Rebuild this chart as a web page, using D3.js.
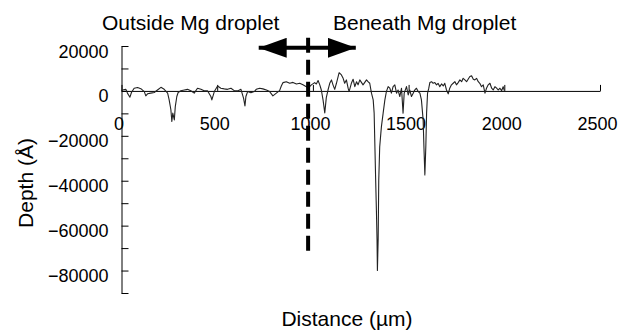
<!DOCTYPE html>
<html>
<head>
<meta charset="utf-8">
<script src="https://cdn.jsdelivr.net/npm/d3@7"></script>
<style>
  body { margin: 0; background: #fff; }
  text { font-family: "Liberation Sans", Arial, Helvetica, sans-serif; fill: #000; }
</style>
</head>
<body>
<div id="vis"></div>
<script>
// profile: distance in µm, depth in Å
var distance = [0, 5, 23, 31, 44, 52, 66, 84, 101, 119, 127, 136, 153, 171, 188, 206, 223, 241, 249, 258,
  263, 268, 276, 281, 289, 296, 310, 328, 345, 362, 380, 397, 415, 432, 450, 467, 472, 485, 502, 519,
  537, 554, 572, 589, 607, 624, 638, 645, 650, 659, 676, 694, 704, 722, 739, 757, 774, 791, 809, 826,
  835, 844, 861, 879, 896, 914, 931, 948, 966, 975, 992, 1009, 1018, 1027, 1036, 1044, 1053, 1062, 1070, 1079,
  1088, 1097, 1105, 1114, 1123, 1137, 1149, 1158, 1166, 1175, 1184, 1189, 1201, 1210, 1219, 1228, 1236, 1245, 1262, 1280,
  1288, 1297, 1306, 1315, 1320, 1324, 1328, 1332, 1335, 1337, 1341, 1344, 1349, 1355, 1358, 1367, 1376, 1384, 1393, 1402,
  1410, 1419, 1428, 1437, 1445, 1454, 1463, 1471, 1477, 1489, 1498, 1506, 1515, 1524, 1532, 1541, 1550, 1559, 1567, 1576,
  1580, 1585, 1590, 1594, 1599, 1605, 1611, 1620, 1628, 1637, 1646, 1654, 1663, 1672, 1681, 1689, 1698, 1707, 1715, 1724,
  1733, 1742, 1750, 1759, 1768, 1777, 1785, 1794, 1803, 1811, 1820, 1829, 1838, 1846, 1855, 1864, 1872, 1881, 1890, 1899,
  1907, 1916, 1925, 1934, 1942, 1951, 1960, 1968, 1977, 1986, 1994, 2000];
var depth = [0, 400, 700, -1000, -2800, -700, 1200, 1500, 1000, -300, -2200, -1300, -1000, -700, 400, 1600, 700, -1000, -4000, -8400,
  -13600, -9900, -12900, -7000, -2500, -700, 100, 400, 700, 100, -1000, 1200, 700, 100, 0, -2500, -4000, -300, 2200, 1200,
  900, 700, 1200, 100, 0, 700, -3300, -6700, -2500, -300, -800, -300, 700, 1200, 900, 400, -300, -2200, -1000, 100,
  2200, 3700, 4100, 3400, 3800, 3100, 3400, 2700, 1900, 1200, 2700, 3700, 3100, 4600, 2700, 400, -4000, -9800, -3000, 400,
  3400, 4900, 2700, 700, 3400, 8100, 7100, 5600, 3400, 4900, 1200, -300, 3400, 5200, 1900, 4100, 2700, 4900, 2700, 4900,
  4100, 3400, -1000, -4000, -9900, -25000, -40000, -54000, -66000, -80000, -66000, -40000, -25000, -18800, -15900, -9900, -4000, -300, 1900, 1200,
  -1000, 1900, 2700, -1000, 400, -2500, 1200, -9900, -1000, 1900, -1800, 400, -2500, -1000, 400, 1200, -300, -1000, -4000, -12900,
  -24800, -37400, -24800, -9900, -1000, 1000, 3700, 4100, 3400, 3700, 2700, 3400, 1900, 3100, 2200, 3400, 400, -1300, 1200, 2700,
  3400, 4100, 2700, 3700, 4900, 4100, 5600, 4900, 4100, 5200, 6400, 6700, 5200, 4900, 5600, 4100, 3400, 1900, 2700, -1000,
  1200, 2700, 3400, 1200, 400, 1900, 1200, 400, 1200, 100, 1900, 100];

var xTicks = [0, 500, 1000, 1500, 2000, 2500];
var yTicks = [20000, 10000, 0, -10000, -20000, -30000, -40000, -50000, -60000, -70000, -80000, -90000];
var yLabelled = [20000, 0, -20000, -40000, -60000, -80000];

var boundary = 975;              // dashed line position (µm)
var boundarySpan = [23700, -74000];
var arrowSpan = [696, 1245];     // double arrow extent (µm)
var arrowLevel = 19200;

var headers = ["Outside Mg droplet", "Beneath Mg droplet"];

var width = 629;
var height = 331;

var x = d3.scaleLinear().domain([0, 2500]).range([121.5, 600]);
var y = d3.scaleLinear().domain([-90000, 20000]).range([293, 46]);

var svg = d3.select('#vis')
    .append('svg')
    .attr('width', width)
    .attr('height', height);

// y axis, ticks pointing inward
var yAxis = svg.append('g')
    .attr('transform', 'translate(' + x(0) + ',0)')
    .call(d3.axisLeft(y)
        .tickValues(yTicks)
        .tickSizeInner(-7)
        .tickSizeOuter(0)
        .tickPadding(13)
        .tickFormat((d) => yLabelled.indexOf(d) >= 0 ? d3.format('d')(d) : ''));
yAxis.select('.domain').attr('stroke', '#000');
yAxis.selectAll('.tick line').attr('stroke', '#000');
yAxis.selectAll('.tick text')
    .attr('font-size', 18)
    .attr('font-family', '"Liberation Sans", Arial, sans-serif')
    .attr('dy', null)
    .attr('y', 11);

// x axis along the zero line
var xAxis = svg.append('g')
    .attr('transform', 'translate(0,' + y(0) + ')')
    .call(d3.axisBottom(x)
        .tickValues(xTicks)
        .tickSizeInner(-6)
        .tickSizeOuter(0)
        .tickPadding(26)
        .tickFormat(d3.format('d')));
xAxis.select('.domain').attr('stroke', '#000');
xAxis.selectAll('.tick line').attr('stroke', '#000');
xAxis.selectAll('.tick text')
    .attr('font-size', 18)
    .attr('font-family', '"Liberation Sans", Arial, sans-serif')
    .attr('dx', -3);

// depth profile
var points = distance.map((d, i) => [d, depth[i]]);
var line = d3.line()
    .x((d) => x(d[0]))
    .y((d) => y(d[1]));

svg.append('path')
    .datum(points)
    .attr('d', line)
    .attr('fill', 'none')
    .attr('stroke', '#222')
    .attr('stroke-width', 1.1)
    .attr('stroke-linejoin', 'round');

// droplet boundary
svg.append('line')
    .attr('x1', x(boundary))
    .attr('x2', x(boundary))
    .attr('y1', y(boundarySpan[0]))
    .attr('y2', y(boundarySpan[1]))
    .attr('stroke', '#000')
    .attr('stroke-width', 4)
    .attr('stroke-dasharray', '15,7');

// double arrow
var defs = svg.append('defs');
defs.append('marker')
    .attr('id', 'head')
    .attr('viewBox', '0 0 28 20')
    .attr('refX', 28)
    .attr('refY', 10)
    .attr('markerWidth', 28)
    .attr('markerHeight', 20)
    .attr('markerUnits', 'userSpaceOnUse')
    .attr('orient', 'auto-start-reverse')
    .append('path')
    .attr('d', 'M0,0L28,10L0,20Z')
    .attr('fill', '#000');

svg.append('line')
    .attr('x1', x(arrowSpan[0]) + 4)
    .attr('x2', x(arrowSpan[1]) - 4)
    .attr('y1', y(arrowLevel))
    .attr('y2', y(arrowLevel))
    .attr('stroke', '#000')
    .attr('stroke-width', 4)
    .attr('marker-start', 'url(#head)')
    .attr('marker-end', 'url(#head)');

// headers
svg.append('text')
    .attr('x', 102)
    .attr('y', 30)
    .attr('font-size', 21)
    .text(headers[0]);
svg.append('text')
    .attr('x', 333)
    .attr('y', 30)
    .attr('font-size', 21)
    .text(headers[1]);

// axis titles
svg.append('text')
    .attr('x', 347)
    .attr('y', 326)
    .attr('text-anchor', 'middle')
    .attr('font-size', 21)
    .text('Distance (µm)');

svg.append('text')
    .attr('transform', 'translate(33,183) rotate(-90)')
    .attr('text-anchor', 'middle')
    .attr('font-size', 21)
    .text('Depth (Å)');
</script>
</body>
</html>
